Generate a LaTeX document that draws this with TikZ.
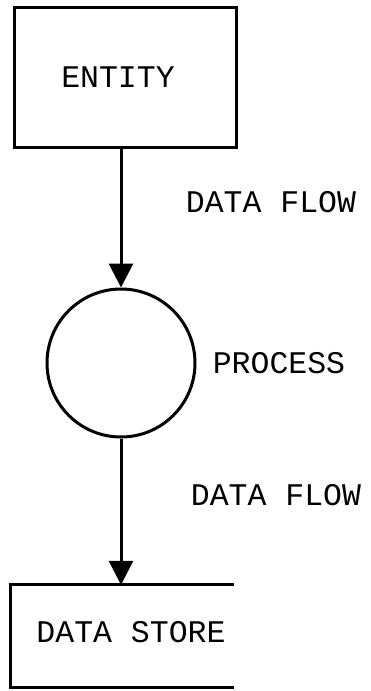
\documentclass[tikz,border=0pt]{standalone}
\usepackage{fontspec}
\setmonofont{Liberation Mono}
\usetikzlibrary{arrows.meta}

\begin{document}
\begin{tikzpicture}[x=1pt,y=-1pt,
boxnode/.style={rectangle, draw=black, line width=3pt, minimum width=222pt, minimum height=140pt, inner sep=0pt},
roundnode/.style={circle, draw=black, line width=3pt, minimum size=148pt, inner sep=0pt},
storenode/.style={rectangle, minimum width=223pt, minimum height=102pt, inner sep=0pt},
word/.style={font=\ttfamily\fontsize{31.5}{36}\selectfont, inner sep=0pt},
flow/.style={line width=3pt, -{Triangle[length=24pt,width=24pt]}}
]
    \useasboundingbox (0,0) rectangle (371,691);

    \node[boxnode] (entity) at (125,77){};
    \node[word] (entitytext) at (118,77){ENTITY};

    \node[roundnode] (process) at (121,363){};
    \node[word] (processtext) at (279,363){PROCESS};

    \node[storenode] (store) at (122,636){};
    \node[word] (storetext) at (131,632){DATA STORE};

    \node[word] (flow1) at (271,202){DATA FLOW};
    \node[word] (flow2) at (276,495){DATA FLOW};

    % open-ended data store
    \draw[line width=3pt] (store.north east) -- (store.north west) -- (store.south west) -- (store.south east);

    \draw[flow] (process.north |- entity.south) -- (process.north);
    \draw[flow] (process.south) -- (process.south |- store.north);
\end{tikzpicture}
\end{document}
